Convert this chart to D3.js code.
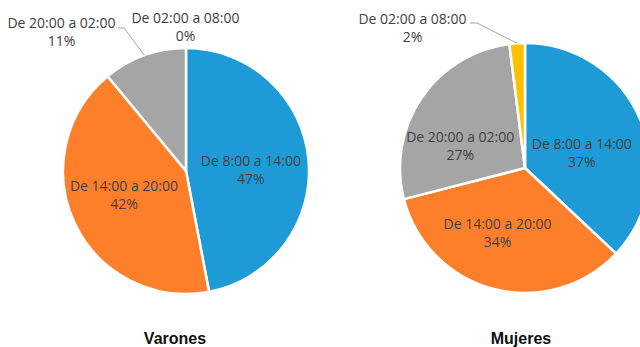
<!DOCTYPE html>
<html><head><meta charset="utf-8">
<script src="https://cdn.jsdelivr.net/npm/d3@7"></script>
<style>
html,body{margin:0;padding:0;background:#fff;}
svg{display:block;}
</style></head>
<body>
<svg id="chart" width="640" height="347"></svg>
<script>
// ---- data ----
const categories = ["De 8:00 a 14:00", "De 14:00 a 20:00", "De 20:00 a 02:00", "De 02:00 a 08:00"];
const varones = [47, 42, 11, 0];
const mujeres = [37, 34, 27, 2];
const chartTitles = ["Varones", "Mujeres"];
const colors = ["#1E9BD7", "#FE7F2A", "#A5A5A5", "#FFC000"];

// ---- layout ----
const svg = d3.select("#chart");
const font = "'Open Sans', sans-serif";
const labelColor = "#404040";
const panels = [
  { values: varones, title: chartTitles[0], cx: 186, cy: 171, r: 123, titleX: 175,
    inside: { 0: [0, 5], 1: [-3, -4] },
    outside: { 2: { at: [61.5, 32], elbow: [124, 28], end: [118, 28] },
               3: { at: [185.5, 27] } } },
  { values: mujeres, title: chartTitles[1], cx: 525, cy: 168, r: 125, titleX: 521,
    inside: { 0: [-4, 11], 1: [-11, 1], 2: [-10, 15] },
    outside: { 3: { at: [412.5, 28], elbow: [477, 23], end: [470, 23] } } }
];

const pie = d3.pie().sort(null).value(d => d.value);

function twoLine(g, x, y, l1, l2) {
  const t = g.append("text").attr("text-anchor", "middle")
    .attr("font-family", font).attr("font-size", 14).attr("fill", labelColor);
  t.append("tspan").attr("x", x).attr("y", y - 4).text(l1);
  t.append("tspan").attr("x", x).attr("y", y + 14).text(l2);
}

panels.forEach(p => {
  const data = categories.map((c, i) => ({ cat: c, value: p.values[i], i }));
  const arcs = pie(data);
  const arc = d3.arc().innerRadius(0).outerRadius(p.r);
  const labelArc = d3.arc().innerRadius(p.r * 0.53).outerRadius(p.r * 0.53);
  const g = svg.append("g");
  const pg = g.append("g").attr("transform", `translate(${p.cx},${p.cy})`);
  pg.selectAll("path").data(arcs.filter(a => a.value > 0)).join("path")
    .attr("d", arc).attr("fill", d => colors[d.data.i])
    .attr("stroke", "#fff").attr("stroke-width", 2.5).attr("stroke-linejoin", "round");

  arcs.forEach(a => {
    const pct = a.data.value + "%";
    if (p.inside[a.data.i]) {
      const [cx, cy] = labelArc.centroid(a);
      const n = p.inside[a.data.i];
      twoLine(g, p.cx + cx + n[0], p.cy + cy + n[1], a.data.cat, pct);
    } else if (p.outside[a.data.i]) {
      const o = p.outside[a.data.i];
      if (o.elbow) {
        const mid = (a.startAngle + a.endAngle) / 2;
        const ex = p.cx + Math.sin(mid) * p.r, ey = p.cy - Math.cos(mid) * p.r;
        g.append("polyline")
          .attr("points", [[ex, ey], o.elbow, o.end].map(q => q.join(",")).join(" "))
          .attr("fill", "none").attr("stroke", "#A6A6A6").attr("stroke-width", 1);
      }
      twoLine(g, o.at[0], o.at[1], a.data.cat, pct);
    }
  });

  svg.append("text").attr("x", p.titleX).attr("y", 344).attr("text-anchor", "middle")
    .attr("font-family", "'Liberation Sans', Arial, sans-serif").attr("font-weight", "bold")
    .attr("font-size", 16).attr("fill", "#111").text(p.title);
});
</script>
</body></html>
